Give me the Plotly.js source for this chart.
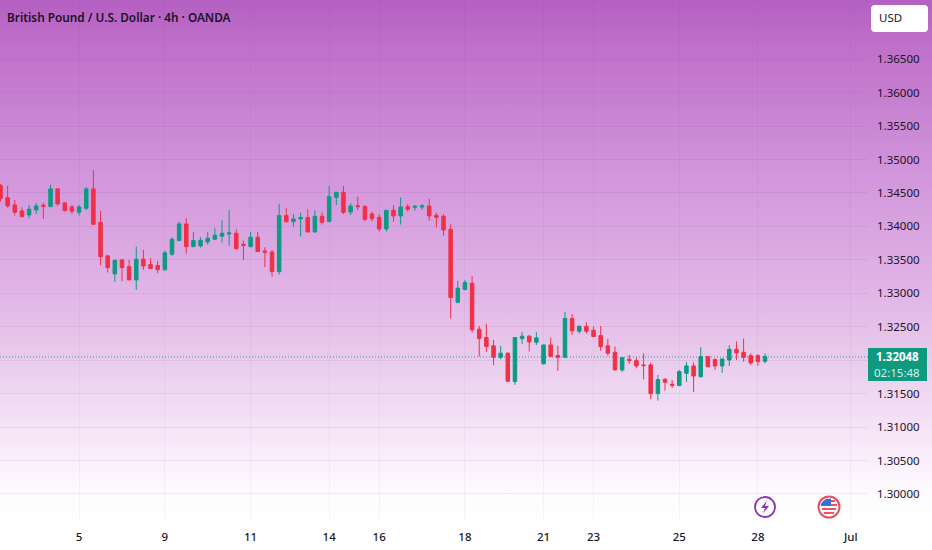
<!DOCTYPE html>
<html><head><meta charset="utf-8">
<script src="https://cdn.plot.ly/plotly-3.0.1.min.js"></script>
<style>
html,body{margin:0;padding:0;width:932px;height:550px;overflow:hidden}
body{background:linear-gradient(180deg,#b45fc2 0%,#be6ec8 7.3%,#d093da 30%,#e1b4e6 52.7%,#e8c8eb 63.6%,#f0daf3 72.7%,#f8ebfa 81.8%,#fcfafd 89%,#ffffff 94.5%)}
</style></head><body>
<div id="chart" style="width:932px;height:550px"></div>
<script>
const opens=[1.34615,1.34430,1.34321,1.34231,1.34171,1.34246,1.34316,1.34296,1.34560,1.34351,
1.34291,1.34211,1.34271,1.34560,1.34057,1.33559,1.33290,1.33499,1.33399,1.33200,
1.33509,1.33429,1.33414,1.33350,1.33584,1.33788,1.34037,1.33698,1.33708,1.33768,
1.33808,1.33853,1.33887,1.33897,1.33732,1.33698,1.33837,1.33633,1.33618,1.33324,
1.34161,1.34071,1.34111,1.34131,1.33917,1.34151,1.34071,1.34435,1.34509,1.34216,
1.34310,1.34295,1.34186,1.34136,1.33962,1.34240,1.34156,1.34295,1.34285,1.34290,
1.34305,1.34166,1.34151,1.33957,1.32866,1.33055,1.33150,1.32463,1.32338,1.32214,
1.32044,1.32104,1.31681,1.32323,1.32358,1.32268,1.31945,1.32228,1.32069,1.32044,
1.32622,1.32433,1.32507,1.32448,1.32368,1.32214,1.32119,1.31854,1.32013,1.31993,
1.31929,1.31929,1.31500,1.31715,1.31640,1.31620,1.31804,1.31914,1.31754,1.32053,
1.32008,1.31914,1.32003,1.32163,1.32118,1.32068,1.32068,1.31983];
const highs=[1.34634,1.34605,1.34395,1.34286,1.34321,1.34346,1.34356,1.34620,1.34570,1.34366,
1.34321,1.34321,1.34585,1.34844,1.34231,1.33574,1.33499,1.33509,1.33499,1.33698,
1.33648,1.33524,1.33484,1.33638,1.33838,1.34072,1.34121,1.33917,1.33838,1.33917,
1.33972,1.34087,1.34246,1.33957,1.33787,1.33917,1.33917,1.33688,1.33648,1.34335,
1.34270,1.34186,1.34206,1.34255,1.34235,1.34211,1.34604,1.34509,1.34604,1.34345,
1.34445,1.34320,1.34220,1.34181,1.34245,1.34315,1.34430,1.34335,1.34320,1.34335,
1.34410,1.34206,1.34181,1.34031,1.33185,1.33200,1.33259,1.32512,1.32542,1.32303,
1.32214,1.32119,1.32343,1.32418,1.32378,1.32418,1.32228,1.32338,1.32214,1.32722,
1.32687,1.32522,1.32567,1.32502,1.32512,1.32318,1.32204,1.32038,1.32078,1.32043,
1.32103,1.31964,1.31779,1.31730,1.31705,1.31854,1.31969,1.31969,1.32193,1.32063,
1.32028,1.32023,1.32223,1.32282,1.32322,1.32103,1.32088,1.32103];
const lows=[1.34370,1.34281,1.34161,1.34131,1.34117,1.34186,1.34112,1.34291,1.34311,1.34221,
1.34186,1.34161,1.34246,1.34022,1.33419,1.33310,1.33170,1.33180,1.33200,1.33051,
1.33350,1.33360,1.33300,1.33350,1.33559,1.33788,1.33594,1.33688,1.33683,1.33728,
1.33798,1.33758,1.33708,1.33648,1.33498,1.33688,1.33618,1.33394,1.33249,1.33279,
1.34056,1.33996,1.33847,1.33907,1.33907,1.34026,1.34066,1.34320,1.34186,1.34171,
1.34245,1.34071,1.34076,1.33922,1.33922,1.34071,1.34026,1.34220,1.34235,1.34245,
1.34086,1.33986,1.33862,1.32622,1.32851,1.33050,1.32413,1.32054,1.32124,1.31925,
1.32014,1.31681,1.31631,1.32243,1.32129,1.32228,1.31935,1.32044,1.31840,1.32044,
1.32383,1.32398,1.32398,1.32348,1.32139,1.32069,1.31845,1.31824,1.31944,1.31879,
1.31715,1.31416,1.31396,1.31545,1.31585,1.31615,1.31675,1.31525,1.31739,1.31894,
1.31854,1.31809,1.31914,1.32003,1.31978,1.31929,1.31914,1.31954];
const closes=[1.34420,1.34306,1.34211,1.34146,1.34256,1.34306,1.34296,1.34560,1.34336,1.34236,
1.34226,1.34291,1.34560,1.34032,1.33549,1.33385,1.33494,1.33385,1.33200,1.33509,
1.33409,1.33370,1.33355,1.33604,1.33808,1.34037,1.33698,1.33788,1.33793,1.33823,
1.33868,1.33897,1.33902,1.33668,1.33713,1.33837,1.33623,1.33613,1.33324,1.34161,
1.34071,1.34111,1.34131,1.33917,1.34151,1.34061,1.34445,1.34509,1.34211,1.34305,
1.34295,1.34106,1.34116,1.33962,1.34240,1.34156,1.34290,1.34255,1.34300,1.34305,
1.34156,1.34136,1.33947,1.32936,1.33075,1.33160,1.32453,1.32323,1.32204,1.32044,
1.32104,1.31686,1.32338,1.32358,1.32273,1.32333,1.32228,1.32059,1.32044,1.32622,
1.32438,1.32507,1.32433,1.32353,1.32204,1.32104,1.31855,1.32038,1.31993,1.31914,
1.31919,1.31500,1.31710,1.31670,1.31625,1.31829,1.31914,1.31764,1.32053,1.31904,
1.31914,1.32018,1.32163,1.32108,1.32043,1.31959,1.31979,1.32053];
const barIndex=[...opens.keys()];
const xTickVals=[11,23,35,46,53,65,76,83,95,106,119];
const xTickText=['5','9','11','14','16','18','21','23','25','28','Jul'];
const yTickVals=[1.30,1.305,1.31,1.315,1.32,1.325,1.33,1.335,1.34,1.345,1.35,1.355,1.36,1.365];
const yTickText=['1.30000','1.30500','1.31000','1.31500','','1.32500','1.33000','1.33500','1.34000','1.34500','1.35000','1.35500','1.36000','1.36500'];
const lastPrice=1.32048;
const lastPriceText='1.32048';
const countdownText='02:15:48';
const chartTitle='British Pound / U.S. Dollar · 4h · OANDA';

const UP='#0b9a82',DOWN='#f23045',TXT='#1b1326',F='"Noto Sans", sans-serif';
const PW=868,PH=522;
const px=v=>v/PW, py=v=>1-v/PH;
function roundRect(x0,y0,x1,y1,r){return {type:'path',xref:'paper',yref:'paper',xsizemode:'pixel',ysizemode:'pixel',xanchor:px(x0),yanchor:py(y0),
 path:`M ${r} 0 H ${x1-x0-r} Q ${x1-x0} 0 ${x1-x0} ${-r} V ${-(y1-y0-r)} Q ${x1-x0} ${-(y1-y0)} ${x1-x0-r} ${-(y1-y0)} H ${r} Q 0 ${-(y1-y0)} 0 ${-(y1-y0-r)} V ${-r} Q 0 0 ${r} 0 Z`};}
function circ(cx,cy,r,fill,line,w){return {type:'circle',xref:'paper',yref:'paper',xsizemode:'pixel',ysizemode:'pixel',xanchor:px(cx),yanchor:py(cy),x0:-r,x1:r,y0:-r,y1:r,fillcolor:fill,line:{color:line,width:w}};}
function piece(cx,cy,path,fill){return {type:'path',xref:'paper',yref:'paper',xsizemode:'pixel',ysizemode:'pixel',xanchor:px(cx),yanchor:py(cy),path,fillcolor:fill,line:{width:0}};}

const shapes=[
 {type:'line',layer:'below',xref:'paper',yref:'y',x0:0,x1:1,y0:lastPrice,y1:lastPrice,line:{color:'#2f9a9c',width:1,dash:'1px,2px'}},
 Object.assign(roundRect(871,5,928,32,4),{fillcolor:'#ffffff',line:{color:'#ffffff',width:0}}),
 {type:'rect',xref:'paper',yref:'paper',x0:px(868),x1:px(927),y0:py(348),y1:py(381),fillcolor:'#0f9a80',line:{width:0}},
 circ(765,507,10,'rgba(255,255,255,0.3)','#8e35b0',1.8),
 piece(765,507,'M 2 6.5 L -4 -1 L 0 -1 L -2 -6.5 L 4 1 L 0 1 Z','#8e35b0'),
 circ(829,507,10.5,'#ffffff','#ea4a5a',2),
 piece(829,507,'M -7 -1 H 7 V -3 H -7 Z','#ea5560'),
 piece(829,507,'M -5 -5 H 5 V -7 H -5 Z','#ea5560'),
 piece(829,507,'M 2 3 H 8 V 1 H 2 Z','#ea5560'),
 piece(829,507,'M 2 7 H 6 V 5 H 2 Z','#ea5560'),
 piece(829,507,'M -8 1 L -8 3 L -6 6 L -3 8 L 2 8.5 L 2 1 Z','#3f6fd0')
];
const ann=(x,y,text,size,color,bold,anchor)=>({xref:'paper',yref:'paper',x:px(x),y:py(y),text:bold?`<b>${text}</b>`:text,showarrow:false,xanchor:anchor||'center',yanchor:'middle',borderpad:0,font:{family:F,size,color}});
const annotations=[
 ann(890,18,'USD',11.5,TXT,false),
 ann(897.5,356.5,lastPriceText,11.5,'#ffffff',true),
 ann(897.5,372,countdownText,11.5,'#d4efe9',false)
];
const trace={type:'candlestick',x:barIndex,open:opens,high:highs,low:lows,close:closes,whiskerwidth:0,
 increasing:{line:{color:UP,width:1},fillcolor:UP},decreasing:{line:{color:DOWN,width:1},fillcolor:DOWN},hoverinfo:'skip'};
const layout={width:932,height:550,autosize:false,showlegend:false,paper_bgcolor:'rgba(0,0,0,0)',plot_bgcolor:'rgba(0,0,0,0)',
 margin:{l:0,r:64,t:0,b:28,pad:0},boxgap:0.3,shapes,annotations,
 title:{text:chartTitle,x:0.0075,xanchor:'left',y:0.967,yanchor:'middle',font:{family:F,size:11.8,color:TXT,weight:600}},
 font:{family:F,size:12,color:TXT},
 xaxis:{type:'linear',range:[-0.07,121.41],rangeslider:{visible:false},tickmode:'array',tickvals:xTickVals,ticktext:xTickText,showgrid:true,gridcolor:'rgba(110,60,130,0.055)',gridwidth:1,zeroline:false,showline:false,ticks:'',tickfont:{family:F,size:11.5,color:TXT,weight:500},ticklabelstandoff:6},
 yaxis:{side:'right',range:[1.29581,1.37384],tickmode:'array',tickvals:yTickVals,ticktext:yTickText,showgrid:true,gridcolor:'rgba(110,60,130,0.085)',gridwidth:1,zeroline:false,showline:false,ticks:'',tickfont:{family:F,size:11.5,color:TXT},ticklabelstandoff:8}
};
Plotly.newPlot('chart',[trace],layout,{displayModeBar:false,staticPlot:true});
</script>
</body></html>
